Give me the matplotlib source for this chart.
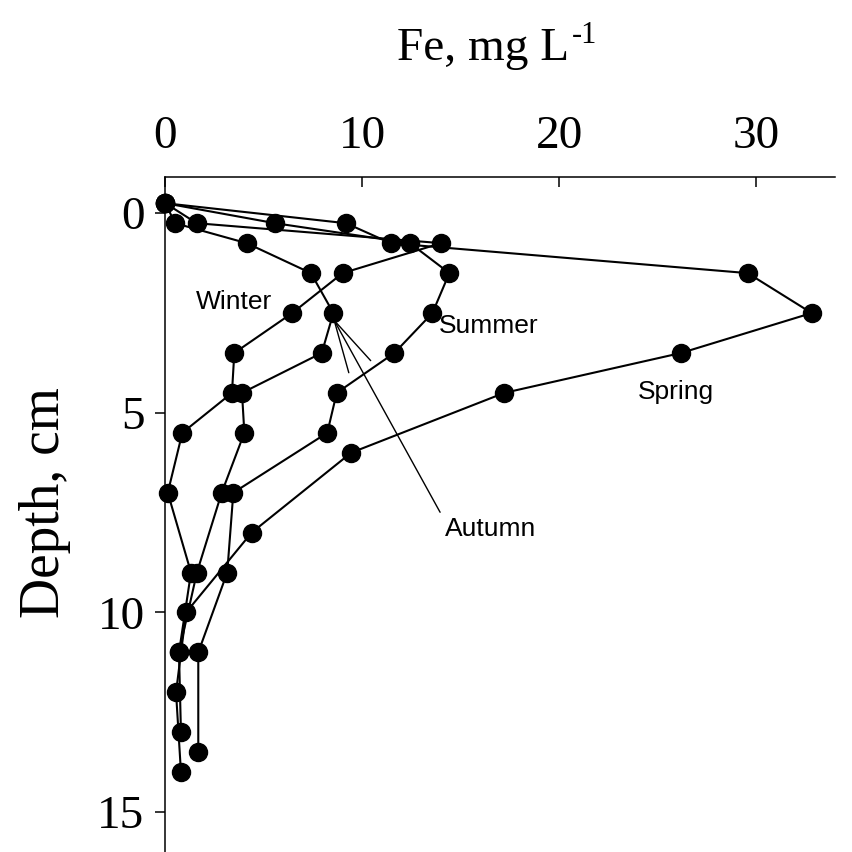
import matplotlib
matplotlib.use("Agg")
import matplotlib.pyplot as plt

# Depths (cm) and Fe concentrations (mg/L) per season
spring_depth = [-0.25, 0.25, 0.75, 1.5, 2.5, 3.5, 4.5, 6, 8, 10, 12, 14]
spring_fe = [0, 9.17, 11.44, 29.57, 32.82, 26.19, 17.21, 9.43, 4.38, 1.05, 0.54, 0.79]

summer_depth = [-0.25, 0.25, 0.75, 1.5, 2.5, 3.5, 4.5, 5.5, 7, 9, 11, 13.5]
summer_fe = [0, 5.57, 12.42, 14.42, 13.56, 11.63, 8.70, 8.22, 3.45, 3.14, 1.67, 1.67]

winter_depth = [-0.25, 0.25, 0.75, 1.5, 2.5, 3.5, 4.5, 5.5, 7, 9, 11, 13]
winter_fe = [0, 1.59, 14.0, 9.0, 6.44, 3.5, 3.38, 0.86, 0.12, 1.3, 0.69, 0.79]

autumn_depth = [-0.25, 0.25, 0.75, 1.5, 2.5, 3.5, 4.5, 5.5, 7, 9, 11]
autumn_fe = [0, 0.49, 4.13, 7.39, 8.53, 7.94, 3.89, 4.01, 2.86, 1.6, 0.69]

x_ticks = [0, 10, 20, 30]
y_ticks = [0, 5, 10, 15]

fig = plt.figure(figsize=(8.53, 8.52), dpi=100)
ax = fig.add_axes([0.1939, 0.0, 0.7849, 0.7919])

for fe, d in [(spring_fe, spring_depth), (summer_fe, summer_depth),
              (winter_fe, winter_depth), (autumn_fe, autumn_depth)]:
    ax.plot(fe, d, color="black", lw=1.5, marker="o", markersize=13,
            markerfacecolor="black", markeredgecolor="black", clip_on=False, zorder=3)

ax.set_xlim(0, 34)
ax.set_ylim(16, -0.9)
ax.xaxis.tick_top()
ax.set_xticks(x_ticks)
ax.set_yticks(y_ticks)
for s in ["right", "bottom"]:
    ax.spines[s].set_visible(False)
for s in ["left", "top"]:
    ax.spines[s].set_linewidth(1.1)

serif = ["Liberation Serif", "DejaVu Serif"]
ax.tick_params(axis="x", direction="in", length=7, width=1.1, pad=14)
ax.tick_params(axis="y", direction="out", length=7, width=1.1, pad=8)
for lab in ax.get_xticklabels() + ax.get_yticklabels():
    lab.set_fontfamily(serif)
    lab.set_fontsize(34)

# Title with a small hyphen superscript
title = fig.text(0.466, 0.9296, "Fe, mg L", ha="left", va="baseline",
                 fontsize=34, family=serif)
fig.canvas.draw()
bb = title.get_window_extent(renderer=fig.canvas.get_renderer())
fig.text(bb.x1 / fig.bbox.width + 0.003, 0.949, "-1", ha="left", va="baseline",
         fontsize=22, family=serif)

fig.text(0.053, 0.41, "Depth, cm", rotation=90, ha="center", va="center",
         fontsize=40, family=serif)

sans = ["Liberation Sans", "DejaVu Sans"]
ax.text(5.4, 2.22, "Winter", ha="right", va="center", fontsize=19, family=sans)
ax.text(13.9, 2.82, "Summer", ha="left", va="center", fontsize=19, family=sans)
ax.text(25.9, 4.47, "Spring", ha="center", va="center", fontsize=19, family=sans)
ax.text(16.5, 7.9, "Autumn", ha="center", va="center", fontsize=19, family=sans)
ax.annotate("", xy=(8.5, 2.62), xytext=(13.95, 7.49),
            arrowprops=dict(arrowstyle="->,head_length=1.9,head_width=0.45",
                            color="black", lw=1.0, shrinkA=0, shrinkB=0,
                            mutation_scale=20))

fig.savefig("out.png", dpi=100)
